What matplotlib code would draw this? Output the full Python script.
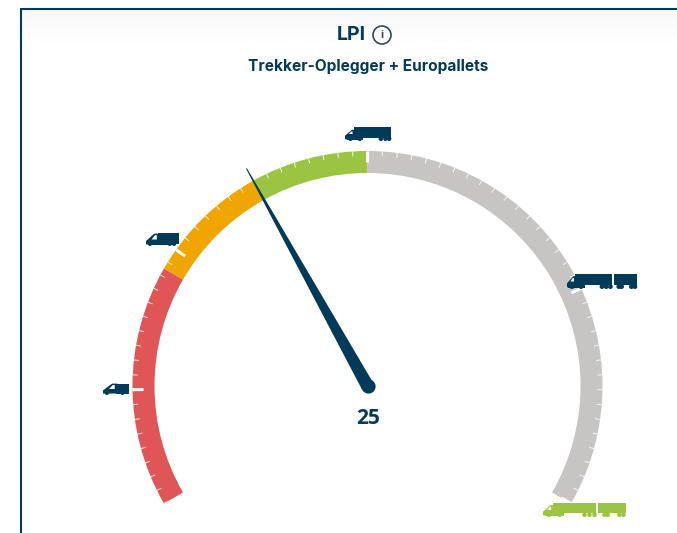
import numpy as np
import matplotlib
matplotlib.use('Agg')
import matplotlib.pyplot as plt
from matplotlib.patches import Polygon, Circle

W, H = 677, 533
DARK = '#023a59'

# gauge data (scale runs in pallet places)
scale_max = 66
band_starts = [0, 16.5, 25, 33]
band_ends = [16.5, 25, 33, 66]
band_colors = ['#e05555', '#f0a500', '#9ac441', '#c6c5c3']
major_ticks = [8, 18, 33, 51, 66]
needle_value = 25
title = 'LPI'
subtitle = 'Trekker-Oplegger + Europallets'

# icons: kind, left, top, width, height, colour (pixels of the picture)
icon_kinds = ['small', 'van', 'truck', 'road', 'road']
icon_left = [103, 146, 345, 567, 543]
icon_top = [383, 233, 127, 274, 503]
icon_width = [26, 33, 46, 70, 83]
icon_height = [12, 13, 14, 15, 14]
icon_colors = [DARK, DARK, DARK, DARK, '#9ac441']

CX, CY = 367.5, 386      # needle hub
R_OUT, R_IN = 235, 213
R_LIM = 260
R_NEEDLE = 249


def val2theta(v):
    return np.radians(np.asarray(v, dtype=float)*240/scale_max)


def box(ax, x, y, w, h, col, x0, x1, y0, y1):
    ax.fill([x+w*x0, x+w*x1, x+w*x1, x+w*x0], [y+h*y0, y+h*y0, y+h*y1, y+h*y1],
            color=col, lw=0)


def wheels(ax, x, y, w, h, col, xs):
    for xw in xs:
        ax.add_patch(Circle((x+w*xw, y+h*0.84), h*0.16, color=col, lw=0))


def cab(ax, x, y, w, h, col, x1, top, slope):
    # sloped nose of a van or tractor with the white window
    pts = [(x, y+h*0.88), (x, y+h*0.62), (x+w*(x1-slope), y+h*top), (x+w*x1, y+h*top), (x+w*x1, y+h*0.88)]
    ax.add_patch(Polygon(pts, closed=True, color=col, lw=0))
    win = [(x+w*x1*0.42, y+h*0.50), (x+w*x1*0.68, y+h*(top+0.12)),
           (x+w*x1*0.82, y+h*(top+0.12)), (x+w*x1*0.82, y+h*0.50)]
    ax.add_patch(Polygon(win, closed=True, color='white', lw=0))


def draw_icon(ax, kind, x, y, w, h, col):
    if kind == 'small':
        cab(ax, x, y, w, h, col, 0.55, 0.05, 0.2)
        box(ax, x, y, w, h, col, 0.5, 1.0, 0.05, 0.88)
        wheels(ax, x, y, w, h, col, [0.15, 0.75])
    elif kind == 'van':
        cab(ax, x, y, w, h, col, 0.4, 0.05, 0.15)
        box(ax, x, y, w, h, col, 0.35, 1.0, 0.02, 0.82)
        box(ax, x, y, w, h, col, 0.05, 0.9, 0.7, 0.9)
        wheels(ax, x, y, w, h, col, [0.12, 0.72, 0.85])
    elif kind == 'truck':
        cab(ax, x, y, w, h, col, 0.2, 0.2, 0.05)
        box(ax, x, y, w, h, col, 0.2, 1.0, 0.0, 0.78)
        box(ax, x, y, w, h, col, 0.05, 0.4, 0.7, 0.92)
        wheels(ax, x, y, w, h, col, [0.12, 0.32, 0.78, 0.88, 0.96])
    else:
        cab(ax, x, y, w, h, col, 0.12, 0.15, 0.03)
        box(ax, x, y, w, h, col, 0.12, 0.64, 0.0, 0.72)
        box(ax, x, y, w, h, col, 0.665, 1.0, 0.0, 0.72)
        box(ax, x, y, w, h, col, 0.02, 0.25, 0.7, 0.9)
        wheels(ax, x, y, w, h, col, [0.07, 0.2, 0.5, 0.56, 0.62, 0.74, 0.78, 0.92, 0.97])


fig = plt.figure(figsize=(W/100, H/100), dpi=100, facecolor='white')

# background: card with dark edge and faint shade under the top line
bg = fig.add_axes([0, 0, 1, 1], zorder=0)
bg.axis('off')
shade = np.linspace(0.97, 1.0, 40).reshape(-1, 1)
bg.imshow(shade, cmap='gray', vmin=0, vmax=1, extent=[22, W, 50, 10], aspect='auto')
bg.set_xlim(0, W)
bg.set_ylim(H, 0)
bg.plot([21, W], [9, 9], color=DARK, lw=1.5, solid_capstyle='butt')
bg.plot([21, 21], [8, H], color=DARK, lw=1.5, solid_capstyle='butt')

# gauge on a polar axes whose centre sits on the hub
ax = fig.add_axes([(CX-R_LIM)/W, (H-CY-R_LIM)/H, 2*R_LIM/W, 2*R_LIM/H],
                  projection='polar', zorder=1)
ax.patch.set_alpha(0)
ax.axis('off')
ax.set_theta_offset(np.radians(210))
ax.set_theta_direction(-1)
ax.set_rlim(0, R_LIM)

for a, b, c in zip(band_starts, band_ends, band_colors):
    t0, t1 = val2theta(a), val2theta(b)
    ax.bar((t0+t1)/2, R_OUT-R_IN, width=t1-t0, bottom=R_IN, color=c, lw=0)

minor = [v for v in range(0, scale_max+1) if v not in major_ticks]
ax.vlines(val2theta(minor), R_OUT-5, R_OUT, colors='white', lw=0.7, alpha=0.85)
ax.vlines(val2theta(major_ticks), R_OUT-11, R_OUT, colors='white', lw=2.2)

# needle
th = val2theta(needle_value)
tip_half = np.arctan(0.5/R_NEEDLE)
ax.fill([th-tip_half, th+tip_half, th+np.pi/2, th-np.pi/2], [R_NEEDLE, R_NEEDLE, 6.5, 6.5],
        color=DARK, lw=0, zorder=5)
ax.scatter([0], [0], s=105, color=DARK, lw=0, zorder=5, clip_on=False)
ax.set_rlim(0, R_LIM)

# icons and texts on top
fg = fig.add_axes([0, 0, 1, 1], zorder=2)
fg.patch.set_alpha(0)
fg.set_xlim(0, W)
fg.set_ylim(H, 0)
fg.axis('off')
for kind, x, y, w, h, col in zip(icon_kinds, icon_left, icon_top, icon_width, icon_height, icon_colors):
    draw_icon(fg, kind, x, y, w, h, col)

fg.text(351.5, 35, title, ha='center', va='center', fontsize=14, fontweight='bold',
        family='Inter', color=DARK)
fg.add_patch(Circle((382, 35), 9, fill=False, ec='#2f4a60', lw=1.2))
fg.text(382, 35, 'i', ha='center', va='center', fontsize=8, fontweight='bold',
        family='Inter', color='#2f4a60')
fg.text(368, 66, subtitle, ha='center', va='center', fontsize=11.1, fontweight='bold',
        family='Inter', color=DARK)
fg.text(368, 418, str(needle_value), ha='center', va='center', fontsize=15, fontweight='bold',
        family='Open Sans', color=DARK)

fig.savefig('out.png', dpi=100)
